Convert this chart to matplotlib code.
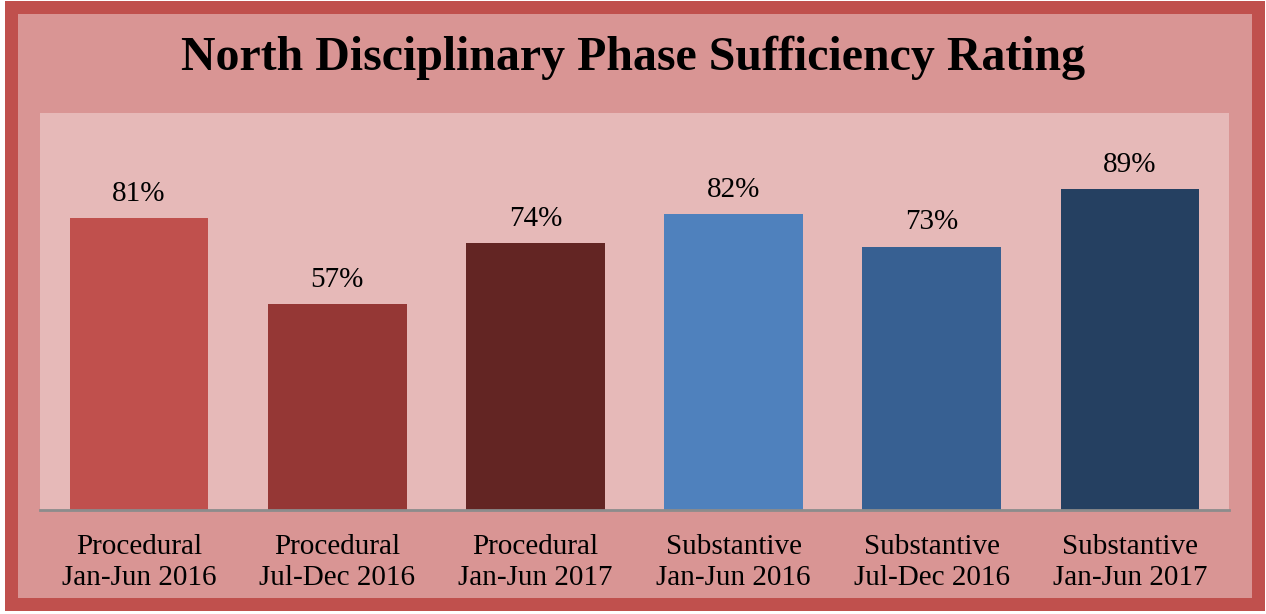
#!/usr/bin/env python
"""North Disciplinary Phase Sufficiency Rating bar chart."""

import matplotlib

matplotlib.use("Agg")
import matplotlib.pyplot as plt
from matplotlib.patches import Rectangle

categories = [
    "Procedural\nJan-Jun 2016",
    "Procedural\nJul-Dec 2016",
    "Procedural\nJan-Jun 2017",
    "Substantive\nJan-Jun 2016",
    "Substantive\nJul-Dec 2016",
    "Substantive\nJan-Jun 2017",
]
ratings = [0.81, 0.57, 0.74, 0.82, 0.73, 0.89]
bar_colors = ["#C0504D", "#953735", "#632523", "#4F81BD", "#376092", "#254061"]

W, H = 1266, 614
plt.rcParams["font.family"] = ["Liberation Serif", "DejaVu Serif"]

fig = plt.figure(figsize=(W / 100, H / 100), dpi=100)
fig.patch.set_facecolor("white")

# framed background with thick red border
bw = 13
fig.patches.append(Rectangle(
    (10.5 / W, (H - 604) / H), (1258 - 10.5) / W, (604 - 6.5) / H,
    transform=fig.transFigure, facecolor="#D99594", edgecolor="#C0504D",
    linewidth=bw * 72 / 100, zorder=-10))

ax = fig.add_axes([40 / W, (H - 510) / H, (1229 - 40) / W, (510 - 113) / H])
ax.set_facecolor("#E6B9B8")

x = list(range(len(categories)))
bars = ax.bar(x, ratings, width=0.70, color=bar_colors, zorder=2)
for rect, val in zip(bars, ratings):
    ax.annotate(f"{val:.0%}", (rect.get_x() + rect.get_width() / 2, val),
                xytext=(0, 8), textcoords="offset points",
                ha="center", va="bottom", fontsize=21, color="black")

ax.set_xlim(-0.5, len(categories) - 0.5)
ax.set_ylim(0, 1.1)
ax.set_yticks([])
ax.set_xticks(x)
ax.set_xticklabels(categories, fontsize=21, linespacing=1.25)
ax.tick_params(axis="x", length=0, pad=17)
for side in ("top", "left", "right"):
    ax.spines[side].set_visible(False)
ax.spines["bottom"].set_color("#8C8C8C")
ax.spines["bottom"].set_linewidth(2)

fig.text(0.5, (H - 70) / H, "North Disciplinary Phase Sufficiency Rating",
         ha="center", va="baseline", fontsize=34.5, fontweight="bold")

fig.savefig("out.png", dpi=100)
